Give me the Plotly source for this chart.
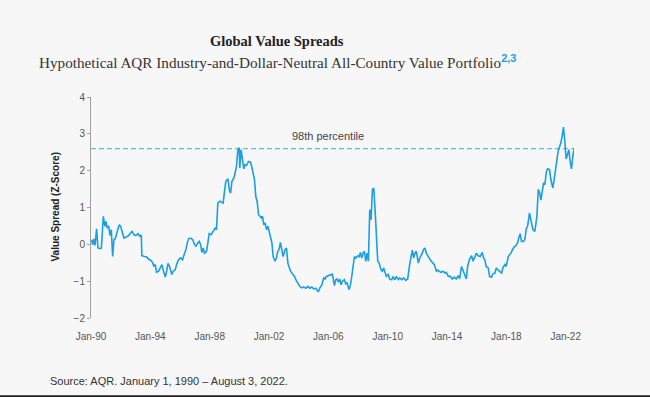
import plotly.graph_objects as go
from datetime import datetime

# ---- data (decimal year, z-score) ----
years = [
    1990.04, 1990.11, 1990.20, 1990.27, 1990.38, 1990.47, 1990.61, 1990.70, 1990.83, 1990.94,
    1991.01, 1991.10, 1991.19, 1991.28, 1991.37, 1991.46, 1991.55, 1991.64, 1991.77, 1991.91,
    1992.00, 1992.13, 1992.22, 1992.36, 1992.49, 1992.63, 1992.76, 1992.90, 1993.03, 1993.17,
    1993.30, 1993.39, 1993.43, 1993.61, 1993.75, 1993.88, 1994.02, 1994.15, 1994.24, 1994.33,
    1994.42, 1994.56, 1994.69, 1994.78, 1994.87, 1995.01, 1995.10, 1995.19, 1995.28, 1995.36,
    1995.45, 1995.54, 1995.68, 1995.77, 1995.90, 1996.04, 1996.17, 1996.31, 1996.40, 1996.49,
    1996.58, 1996.71, 1996.85, 1996.98, 1997.07, 1997.21, 1997.30, 1997.39, 1997.47, 1997.56,
    1997.65, 1997.79, 1997.88, 1997.97, 1998.10, 1998.24, 1998.37, 1998.46, 1998.55, 1998.69,
    1998.82, 1998.91, 1999.00, 1999.09, 1999.23, 1999.32, 1999.41, 1999.50, 1999.58, 1999.67,
    1999.81, 1999.90, 1999.99, 2000.03, 2000.12, 2000.21, 2000.30, 2000.39, 2000.48, 2000.62,
    2000.75, 2000.84, 2000.93, 2001.02, 2001.11, 2001.20, 2001.29, 2001.38, 2001.47, 2001.56,
    2001.65, 2001.74, 2001.83, 2001.92, 2002.01, 2002.10, 2002.19, 2002.28, 2002.41, 2002.50,
    2002.59, 2002.68, 2002.77, 2002.86, 2002.95, 2003.09, 2003.18, 2003.27, 2003.36, 2003.45,
    2003.58, 2003.72, 2003.81, 2003.94, 2004.07, 2004.21, 2004.34, 2004.48, 2004.61, 2004.75,
    2004.88, 2005.02, 2005.15, 2005.24, 2005.33, 2005.42, 2005.56, 2005.69, 2005.78, 2005.87,
    2006.00, 2006.14, 2006.27, 2006.41, 2006.50, 2006.59, 2006.68, 2006.77, 2006.86, 2006.95,
    2007.08, 2007.17, 2007.26, 2007.40, 2007.49, 2007.58, 2007.67, 2007.76, 2007.85, 2007.98,
    2008.07, 2008.16, 2008.25, 2008.34, 2008.43, 2008.52, 2008.61, 2008.70, 2008.79, 2008.88,
    2008.97, 2009.06, 2009.15, 2009.24, 2009.33, 2009.42, 2009.55, 2009.64, 2009.73, 2009.82,
    2009.91, 2010.04, 2010.13, 2010.27, 2010.36, 2010.49, 2010.58, 2010.72, 2010.81, 2010.94,
    2011.08, 2011.21, 2011.35, 2011.48, 2011.57, 2011.66, 2011.75, 2011.84, 2011.93, 2012.07,
    2012.16, 2012.29, 2012.42, 2012.51, 2012.60, 2012.74, 2012.87, 2013.01, 2013.14, 2013.28,
    2013.37, 2013.46, 2013.59, 2013.73, 2013.86, 2013.95, 2014.09, 2014.22, 2014.35, 2014.49,
    2014.62, 2014.76, 2014.85, 2014.98, 2015.07, 2015.21, 2015.30, 2015.39, 2015.52, 2015.66,
    2015.75, 2015.88, 2015.97, 2016.11, 2016.24, 2016.38, 2016.46, 2016.55, 2016.64, 2016.78,
    2016.87, 2017.00, 2017.09, 2017.23, 2017.32, 2017.45, 2017.54, 2017.68, 2017.77, 2017.90,
    2017.99, 2018.13, 2018.22, 2018.31, 2018.40, 2018.53, 2018.62, 2018.75, 2018.84, 2018.93,
    2019.02, 2019.16, 2019.25, 2019.34, 2019.43, 2019.56, 2019.65, 2019.79, 2019.92, 2020.06,
    2020.15, 2020.24, 2020.33, 2020.42, 2020.51, 2020.60, 2020.69, 2020.78, 2020.91, 2021.00,
    2021.13, 2021.22, 2021.31, 2021.40, 2021.49, 2021.58, 2021.67, 2021.76, 2021.85, 2021.94,
    2022.03, 2022.12, 2022.21, 2022.30, 2022.39, 2022.48, 2022.57,
]
values = [
    0.13, -0.01, 0.15, -0.03, 0.42, -0.10, -0.12, -0.10, 0.76, 0.49,
    0.62, 0.44, 0.50, 0.24, 0.40, -0.33, 0.13, 0.15, 0.35, 0.53,
    0.49, 0.26, 0.17, 0.20, 0.22, 0.29, 0.35, 0.26, 0.24, 0.29,
    0.22, 0.25, -0.31, -0.33, -0.34, -0.40, -0.43, -0.49, -0.60, -0.55,
    -0.76, -0.73, -0.64, -0.55, -0.70, -0.89, -0.73, -0.52, -0.58, -0.67,
    -0.82, -0.73, -0.69, -0.55, -0.42, -0.37, -0.42, -0.24, -0.14, 0.04,
    0.15, 0.17, 0.13, -0.01, -0.05, 0.04, 0.08, -0.01, -0.22, -0.10,
    -0.24, -0.19, 0.04, 0.29, 0.26, 0.35, 0.44, 0.40, 1.12, 1.17,
    1.14, 1.12, 1.44, 1.71, 1.78, 1.49, 1.39, 1.71, 1.76, 1.85,
    2.12, 2.57, 2.62, 2.07, 2.57, 2.30, 2.05, 2.16, 2.14, 2.25,
    2.23, 2.10, 1.94, 1.76, 1.29, 1.17, 0.81, 0.76, 0.72, 0.76,
    0.53, 0.58, 0.40, 0.49, 0.31, 0.15, 0.05, -0.33, -0.46, -0.37,
    -0.19, -0.14, 0.05, -0.14, -0.33, -0.14, -0.10, -0.51, -0.60, -0.73,
    -0.80, -0.87, -0.96, -1.07, -1.14, -1.18, -1.16, -1.19, -1.14, -1.19,
    -1.16, -1.21, -1.19, -1.25, -1.28, -1.19, -1.10, -0.91, -0.94, -0.87,
    -0.85, -0.82, -0.81, -1.12, -0.96, -0.94, -1.03, -0.94, -1.10, -1.00,
    -0.96, -1.07, -1.05, -1.23, -1.10, -0.87, -0.64, -0.33, -0.37, -0.31,
    -0.34, -0.22, -0.37, -0.24, -0.19, -0.46, -0.24, -0.46, 0.94, 0.67,
    1.49, 1.53, 0.94, 0.13, -0.46, -0.51, -0.69, -0.73, -0.64, -0.76,
    -0.87, -0.82, -0.94, -0.96, -0.89, -0.96, -0.87, -0.96, -0.91, -0.96,
    -0.91, -0.98, -0.94, -0.55, -0.28, -0.16, -0.37, -0.24, -0.19, -0.51,
    -0.37, -0.28, -0.14, -0.10, -0.24, -0.34, -0.42, -0.49, -0.55, -0.73,
    -0.70, -0.73, -0.76, -0.73, -0.78, -0.76, -0.87, -0.87, -0.94, -0.89,
    -0.94, -0.85, -0.94, -0.60, -0.70, -0.82, -0.94, -0.60, -0.40, -0.31,
    -0.46, -0.34, -0.24, -0.31, -0.33, -0.22, -0.37, -0.42, -0.60, -0.64,
    -0.87, -0.89, -0.80, -0.78, -0.64, -0.70, -0.73, -0.78, -0.64, -0.55,
    -0.60, -0.33, -0.28, -0.24, -0.16, -0.07, -0.05, 0.04, 0.17, 0.29,
    0.08, 0.08, 0.13, 0.42, 0.49, 0.85, 0.67, 0.40, 0.35, 0.76,
    1.49, 1.41, 1.20, 1.49, 1.67, 1.62, 1.96, 2.05, 2.03, 1.76,
    1.53, 1.76, 2.03, 2.23, 2.53, 2.64, 2.75, 2.93, 3.18, 2.80,
    2.32, 2.43, 2.57, 2.25, 2.05, 2.39, 2.62,
]
percentile_98 = 2.6
percentile_label = "98th percentile"
x_start, x_end = 1990.0, 2022.56
y_ticks = [-2, -1, 0, 1, 2, 3, 4]

title_text = "Global Value Spreads"
subtitle_text = "Hypothetical AQR Industry-and-Dollar-Neutral All-Country Value Portfolio"
sup_text = "2,3"
y_title = "Value Spread (Z-Score)"
source_text = "Source: AQR. January 1, 1990 – August 3, 2022."


def to_date(y):
    yr = int(y)
    frac = y - yr
    a = datetime(yr, 1, 1)
    b = datetime(yr + 1, 1, 1)
    return a + (b - a) * frac


dates = [to_date(v) for v in years]
d0, d1 = to_date(x_start), to_date(x_end)

BG = "#f7f7f7"
BLUE = "#1b9fe0"
GRAY = "#b0b0b0"
SANS = "Liberation Sans, Arial, sans-serif"
SERIF = "Liberation Serif, Times New Roman, serif"

fig = go.Figure()
fig.add_trace(go.Scatter(x=dates, y=values, mode="lines",
                         line=dict(color=BLUE, width=1.6), hoverinfo="skip",
                         showlegend=False))

fig.add_shape(type="line", xref="x", yref="y", x0=d0, x1=d1,
              y0=percentile_98, y1=percentile_98, layer="below",
              line=dict(color="#5bbfea", width=1.2, dash="5px,3px"))

# bottom dark border
fig.add_shape(type="rect", xref="paper", yref="paper", x0=-0.2, x1=1.2,
              y0=-0.362, y1=-0.349, line=dict(width=0), fillcolor="#222")

W, H = 650, 397
L, R, T, B = 91, 76, 97, 79
pw, ph = W - L - R, H - T - B


def px_x(px):
    return (px - L) / pw


def px_y(py):
    return (H - B - py) / ph


fig.update_layout(
    width=W, height=H,
    margin=dict(l=L, r=R, t=T, b=B),
    paper_bgcolor=BG, plot_bgcolor=BG,
    showlegend=False,
    xaxis=dict(type="date", range=[d0, d1], tick0="1990-01-01", dtick="M48",
               tickformat="%b-%y", showline=False, showgrid=False, zeroline=False,
               ticks="outside", ticklen=9, tickcolor="rgba(0,0,0,0)",
               tickfont=dict(family=SANS, size=10, color="#555")),
    xaxis2=dict(type="date", overlaying="x", matches="x", anchor="free",
                position=1 / 3, showline=True, linecolor=GRAY, linewidth=1.5,
                ticks="outside", ticklen=3, tickcolor=GRAY, tickwidth=1,
                tick0="1990-01-01", dtick="M48", showticklabels=False,
                showgrid=False, zeroline=False, layer="below traces"),
    yaxis=dict(range=[-2, 4], tickvals=y_ticks, showline=True, linecolor="#a0a0a0",
               linewidth=1, ticks="outside", ticklen=3, tickcolor="#a0a0a0",
               showgrid=False, zeroline=False,
               tickfont=dict(family=SANS, size=10, color="#555")),
    annotations=[
        dict(text="<b>" + title_text + "</b>", xref="paper", yref="paper",
             x=px_x(277), y=px_y(41), xanchor="center", yanchor="middle",
             showarrow=False, font=dict(family=SERIF, size=14.5, color="#222")),
        dict(text=subtitle_text + "<sup><span style='color:" + BLUE
             + ";font-family:Liberation Sans;font-size:11px'><b>" + sup_text + "</b></span></sup>",
             xref="paper", yref="paper", x=px_x(37), y=px_y(62), xanchor="left",
             yanchor="middle", showarrow=False,
             font=dict(family=SERIF, size=15.2, color="#333")),
        dict(text=percentile_label, xref="x", yref="y", x=to_date(2005.96), y=2.93,
             xanchor="center", yanchor="middle", showarrow=False,
             font=dict(family=SANS, size=11, color="#444")),
        dict(text="<b>" + y_title + "</b>", xref="paper", yref="paper",
             x=px_x(55), y=0.5, xanchor="center", yanchor="middle", textangle=-90,
             showarrow=False, font=dict(family=SANS, size=10, color="#222")),
        dict(text=source_text, xref="paper", yref="paper", x=px_x(48), y=px_y(381),
             xanchor="left", yanchor="middle", showarrow=False,
             font=dict(family=SANS, size=11, color="#333")),
    ],
)

fig.write_html("out.html", config={"displayModeBar": False},
               post_script="document.body.style.margin='0';document.body.style.background='" + BG + "';")
